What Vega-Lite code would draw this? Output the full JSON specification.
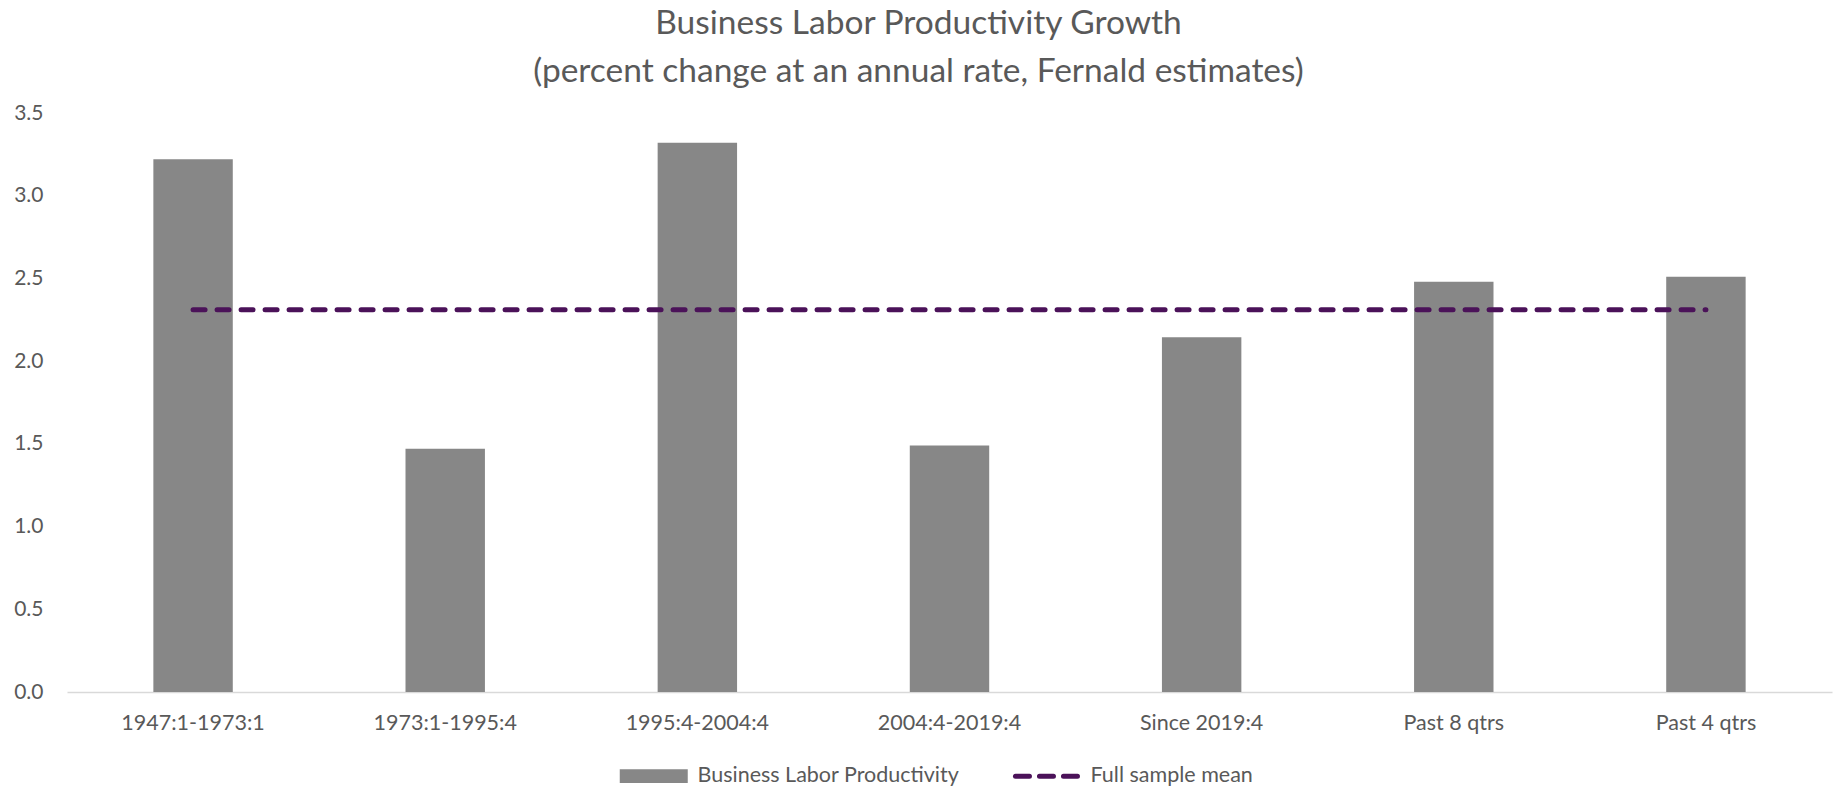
{
  "$schema": "https://vega.github.io/schema/vega-lite/v6.json",
  "width": 1765,
  "height": 579,
  "autosize": {"type": "none"},
  "padding": {"left": 67, "top": 113, "right": 4, "bottom": 95},
  "background": "white",
  "title": {
    "text": ["Business Labor Productivity Growth", "(percent change at an annual rate, Fernald estimates)"],
    "font": "Lato",
    "fontSize": 33.5,
    "fontWeight": "normal",
    "color": "#595959",
    "anchor": "middle",
    "frame": "group",
    "dx": -31,
    "offset": 13,
    "lineHeight": 48
  },
  "config": {
    "view": {"stroke": null},
    "font": "Lato"
  },
  "data": {
    "values": [
      {"period": "1947:1-1973:1", "value": 3.22, "mean": 2.31},
      {"period": "1973:1-1995:4", "value": 1.47, "mean": 2.31},
      {"period": "1995:4-2004:4", "value": 3.32, "mean": 2.31},
      {"period": "2004:4-2019:4", "value": 1.49, "mean": 2.31},
      {"period": "Since 2019:4", "value": 2.145, "mean": 2.31},
      {"period": "Past 8 qtrs", "value": 2.48, "mean": 2.31},
      {"period": "Past 4 qtrs", "value": 2.51, "mean": 2.31}
    ]
  },
  "encoding": {
    "x": {
      "field": "period",
      "type": "nominal",
      "sort": null,
      "scale": {"paddingInner": 0.685, "paddingOuter": 0.3425},
      "axis": {
        "title": null,
        "labelAngle": 0,
        "labelFont": "Lato",
        "labelFontSize": 21.5,
        "labelColor": "#595959",
        "labelPadding": 20,
        "ticks": false,
        "domain": true,
        "domainColor": "#D9D9D9",
        "domainWidth": 1.5
      }
    }
  },
  "layer": [
    {
      "mark": {"type": "bar", "color": "#878787"},
      "encoding": {
        "y": {
          "field": "value",
          "type": "quantitative",
          "scale": {"domain": [0, 3.5], "nice": false},
          "axis": {
            "title": null,
            "values": [0, 0.5, 1, 1.5, 2, 2.5, 3, 3.5],
            "format": ".1f",
            "grid": false,
            "domain": false,
            "ticks": false,
            "labelPadding": 24,
            "labelFont": "Lato",
            "labelFontSize": 21,
            "labelColor": "#595959"
          }
        },
        "color": {
          "datum": "Business Labor Productivity",
          "type": "nominal",
          "scale": {
            "domain": ["Business Labor Productivity", "Full sample mean"],
            "range": ["#878787", "#4B1259"]
          },
          "legend": {
            "title": null,
            "orient": "none",
            "direction": "horizontal",
            "legendX": 576,
            "legendY": 652,
            "symbolSize": 4624,
            "labelFont": "Lato",
            "labelFontSize": 21.5,
            "labelColor": "#595959",
            "labelOffset": 33,
            "labelLimit": 500,
            "columnPadding": 45,
            "encode": {
              "symbols": {
                "update": {
                  "shape": {"signal": "datum.value === 'Full sample mean' ? 'M-0.92,0H0.92' : 'M-1,-0.2H1V0.2H-1Z'"},
                  "strokeDash": {"signal": "datum.value === 'Full sample mean' ? [14, 10] : [1, 0]"},
                  "strokeWidth": {"signal": "datum.value === 'Full sample mean' ? 5 : 0"},
                  "strokeCap": {"value": "round"},
                  "fill": {"signal": "datum.value === 'Full sample mean' ? 'transparent' : '#878787'"},
                  "stroke": {"signal": "datum.value === 'Full sample mean' ? '#4B1259' : '#878787'"},
                  "opacity": {"value": 1},
                  "fillOpacity": {"value": 1},
                  "strokeOpacity": {"value": 1}
                }
              }
            }
          }
        }
      }
    },
    {
      "mark": {"type": "line", "strokeDash": [12, 12], "strokeWidth": 5, "strokeCap": "round"},
      "encoding": {
        "y": {"field": "mean", "type": "quantitative"},
        "color": {"datum": "Full sample mean", "type": "nominal"}
      }
    }
  ]
}
